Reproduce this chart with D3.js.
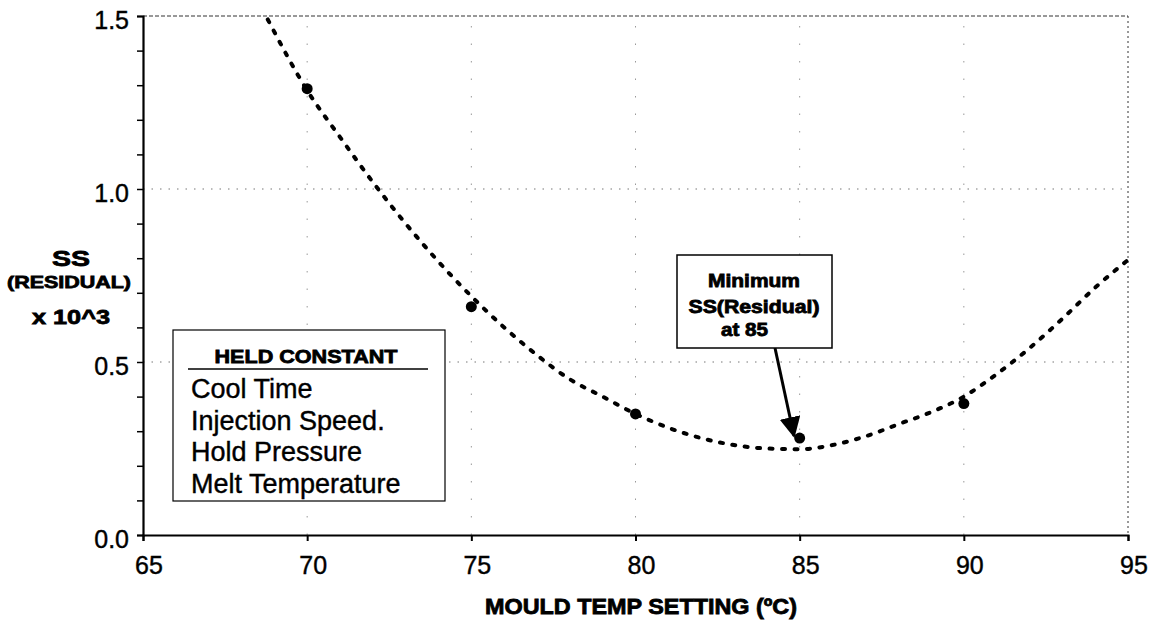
<!DOCTYPE html>
<html>
<head>
<meta charset="utf-8">
<script src="https://cdn.jsdelivr.net/npm/d3@7"></script>
<style>
  body { margin: 0; background: #fff; }
  svg { display: block; font-family: "Liberation Sans", Arial, sans-serif; }
  text { fill: #000; stroke: #000; stroke-width: 0.4px; }
  text.heavy { stroke-width: 0.8px; }
</style>
</head>
<body>
<svg id="chart"></svg>
<script>
// Measured points (mould temp setting vs SS residual x 10^3)
let tempSetting = [70, 75, 80, 85, 90];
let ssResidual = [1.29, 0.66, 0.35, 0.28, 0.38];

// Trend line
let trendX = [68.8, 70, 71, 72, 73, 74, 75, 76, 77, 78, 79, 80, 81, 82, 83, 84, 85, 86, 87, 88, 89, 90, 91, 92, 93, 94, 95];
let trendY = [1.49, 1.285, 1.15, 1.02, 0.90, 0.79, 0.69, 0.60, 0.52, 0.45, 0.40, 0.35, 0.31, 0.28, 0.26, 0.25, 0.248, 0.26, 0.285, 0.32, 0.355, 0.40, 0.465, 0.54, 0.625, 0.715, 0.795];

// Axis ticks
let xTicks = [65, 70, 75, 80, 85, 90, 95];
let yTicks = [0, 0.5, 1.0, 1.5];
let yMinorTicks = d3.range(0, 1.51, 0.1);

let heldConstant = ['Cool Time', 'Injection Speed.', 'Hold Pressure', 'Melt Temperature'];
let noteLines = ['Minimum', 'SS(Residual)', 'at 85'];

let width = 1154, height = 620;
let svg = d3.select('#chart').attr('width', width).attr('height', height);

let x = d3.scaleLinear().domain([65, 95]).range([143, 1128]);
let y = d3.scaleLinear().domain([0, 1.5]).range([535, 16]);

// gridlines
svg.selectAll('.hgrid')
    .data([0.5, 1.0])
    .enter()
    .append('line')
    .attr('x1', x(65)).attr('x2', x(95))
    .attr('y1', d => y(d)).attr('y2', d => y(d))
    .attr('stroke', '#777').attr('stroke-width', 1)
    .attr('stroke-dasharray', '1.5,7');

svg.selectAll('.vgrid')
    .data([70, 75, 80, 85, 90])
    .enter()
    .append('line')
    .attr('x1', d => x(d)).attr('x2', d => x(d))
    .attr('y1', y(0)).attr('y2', y(1.5))
    .attr('stroke', '#999').attr('stroke-width', 1)
    .attr('stroke-dasharray', '1.5,16');

// top and right border (dashed)
svg.append('line')
    .attr('x1', x(65)).attr('x2', x(95))
    .attr('y1', y(1.5)).attr('y2', y(1.5))
    .attr('stroke', '#333').attr('stroke-width', 1)
    .attr('stroke-dasharray', '4,2');
svg.append('line')
    .attr('x1', x(95)).attr('x2', x(95))
    .attr('y1', y(1.5)).attr('y2', y(0))
    .attr('stroke', '#333').attr('stroke-width', 1)
    .attr('stroke-dasharray', '2,3');

// axes
let xAxis = d3.axisBottom(x).tickValues(xTicks).tickSize(6).tickFormat('');
let gx = svg.append('g').attr('transform', 'translate(0,' + y(0) + ')').call(xAxis);
gx.select('.domain').attr('stroke', '#000').attr('stroke-width', 2);
gx.selectAll('.tick line').attr('stroke', '#000').attr('stroke-width', 2);

let yAxisMinor = d3.axisLeft(y).tickValues(yMinorTicks).tickSize(6).tickFormat('');
let gy = svg.append('g').attr('transform', 'translate(' + x(65) + ',0)').call(yAxisMinor);
gy.select('.domain').attr('stroke', '#000').attr('stroke-width', 2.2);
gy.selectAll('.tick line').attr('stroke', '#000').attr('stroke-width', 1.5);

// tick labels
svg.selectAll('.xlab')
    .data(xTicks)
    .enter()
    .append('text')
    .attr('x', d => x(d) + 6)
    .attr('y', 574)
    .attr('text-anchor', 'middle')
    .attr('font-size', 25)
    .text(d => d);

svg.selectAll('.ylab')
    .data(yTicks)
    .enter()
    .append('text')
    .attr('x', 129)
    .attr('y', d => y(d) + 13)
    .attr('text-anchor', 'end')
    .attr('font-size', 25)
    .text(d => d3.format('.1f')(d));

// axis titles
svg.append('text')
    .attr('class', 'heavy')
    .attr('x', 641).attr('y', 614)
    .attr('text-anchor', 'middle')
    .attr('font-size', 22).attr('font-weight', 'bold')
    .attr('textLength', 312).attr('lengthAdjust', 'spacingAndGlyphs')
    .text('MOULD TEMP SETTING (ºC)');

svg.append('text')
    .attr('class', 'heavy')
    .attr('x', 71).attr('y', 266)
    .attr('text-anchor', 'middle')
    .attr('font-size', 22).attr('font-weight', 'bold')
    .attr('textLength', 38).attr('lengthAdjust', 'spacingAndGlyphs')
    .text('SS');
svg.append('text')
    .attr('class', 'heavy')
    .attr('x', 69).attr('y', 288)
    .attr('text-anchor', 'middle')
    .attr('font-size', 17).attr('font-weight', 'bold')
    .attr('textLength', 124).attr('lengthAdjust', 'spacingAndGlyphs')
    .text('(RESIDUAL)');
svg.append('text')
    .attr('class', 'heavy')
    .attr('x', 71).attr('y', 324)
    .attr('text-anchor', 'middle')
    .attr('font-size', 21).attr('font-weight', 'bold')
    .attr('textLength', 78).attr('lengthAdjust', 'spacingAndGlyphs')
    .text('x 10^3');

// trend line
let trend = trendX.map((d, i) => [d, trendY[i]]);
let line = d3.line()
    .x(d => x(d[0]))
    .y(d => y(d[1]))
    .curve(d3.curveMonotoneX);

svg.append('path')
    .datum(trend)
    .attr('d', line)
    .attr('fill', 'none')
    .attr('stroke', '#000')
    .attr('stroke-width', 4)
    .attr('stroke-linecap', 'round')
    .attr('stroke-dasharray', '3,9.5');

// data points
svg.selectAll('.pt')
    .data(tempSetting)
    .enter()
    .append('circle')
    .attr('cx', d => x(d))
    .attr('cy', (d, i) => y(ssResidual[i]))
    .attr('r', 5.5)
    .attr('fill', '#000');

// held constant legend box
svg.append('rect')
    .attr('x', 173).attr('y', 330)
    .attr('width', 272).attr('height', 171)
    .attr('fill', '#fff')
    .attr('stroke', '#000').attr('stroke-width', 1.2);
svg.append('text')
    .attr('class', 'heavy')
    .attr('x', 306).attr('y', 363)
    .attr('text-anchor', 'middle')
    .attr('font-size', 19).attr('font-weight', 'bold')
    .attr('textLength', 183).attr('lengthAdjust', 'spacingAndGlyphs')
    .text('HELD CONSTANT');
svg.append('line')
    .attr('x1', 188).attr('x2', 428)
    .attr('y1', 369).attr('y2', 369)
    .attr('stroke', '#000').attr('stroke-width', 1.5);
svg.selectAll('.held')
    .data(heldConstant)
    .enter()
    .append('text')
    .attr('x', 191)
    .attr('y', (d, i) => 398 + i * 31.7)
    .attr('font-size', 27)
    .text(d => d);

// annotation box and arrow
svg.append('defs').append('marker')
    .attr('id', 'head')
    .attr('viewBox', '0 0 10 10')
    .attr('refX', 9).attr('refY', 5)
    .attr('markerWidth', 7).attr('markerHeight', 7)
    .attr('markerUnits', 'strokeWidth')
    .attr('orient', 'auto')
    .append('path')
    .attr('d', 'M0,0 L10,5 L0,10 Z')
    .attr('fill', '#000');

svg.append('line')
    .attr('x1', 775).attr('y1', 348)
    .attr('x2', 794).attr('y2', 436)
    .attr('stroke', '#000').attr('stroke-width', 3)
    .attr('marker-end', 'url(#head)');

svg.append('rect')
    .attr('x', 677).attr('y', 255)
    .attr('width', 155).attr('height', 93)
    .attr('fill', '#fff')
    .attr('stroke', '#000').attr('stroke-width', 1.5);

let noteWidths = [92, 131, 47];
svg.selectAll('.note')
    .data(noteLines)
    .enter()
    .append('text')
    .attr('class', 'heavy')
    .attr('x', (d, i) => i === 2 ? 721 : 754)
    .attr('y', (d, i) => [287, 313, 336][i])
    .attr('text-anchor', (d, i) => i === 2 ? 'start' : 'middle')
    .attr('font-size', 18).attr('font-weight', 'bold')
    .attr('textLength', (d, i) => noteWidths[i])
    .attr('lengthAdjust', 'spacingAndGlyphs')
    .text(d => d);
</script>
</body>
</html>
